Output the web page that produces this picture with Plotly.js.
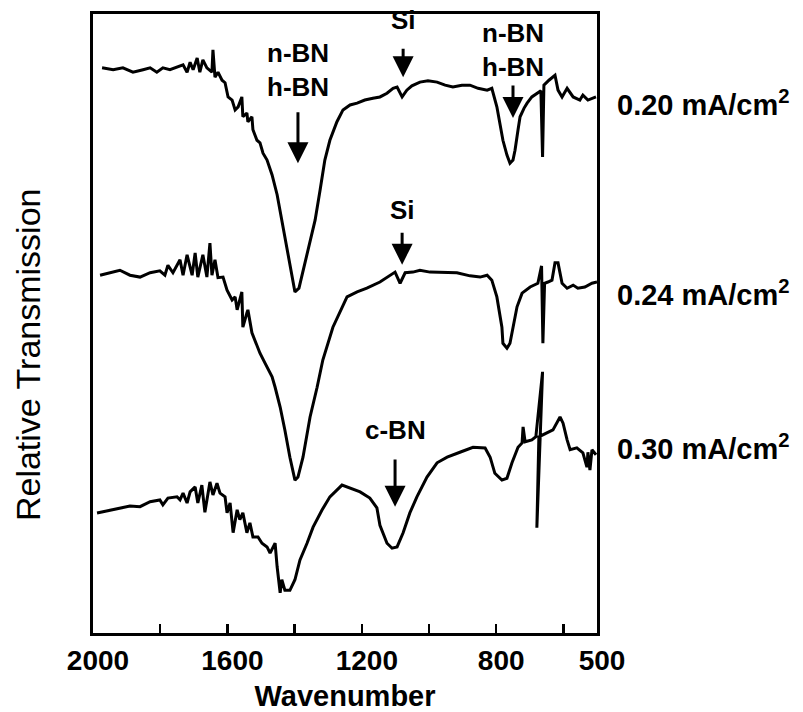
<!DOCTYPE html>
<html><head><meta charset="utf-8">
<script src="https://cdn.plot.ly/plotly-3.0.1.min.js"></script>
<style>html,body{margin:0;padding:0;background:#fff}</style>
</head><body>
<div id="chart" style="width:803px;height:712px"></div>
<script>
// Wavenumber (cm^-1) and relative transmission (arbitrary units)
const wn020 = [1973,1940,1911,1881,1851,1830,1810,1792,1771,1750,1732,1720,1711,1702,1690,1682,1673,1661,1646,1643,1637,1628,1616,1607,1598,1586,1577,1568,1557,1554,1542,1539,1527,1524,1512,1503,1494,1482,1467,1452,1438,1426,1414,1399,1387,1372,1354,1339,1324,1310,1295,1274,1256,1235,1214,1191,1167,1146,1125,1107,1095,1080,1066,1051,1027,1003,976,952,929,902,878,854,827,813,798,789,780,768,759,750,744,735,729,717,708,694,679,667,662,658,643,634,625,616,604,589,571,551,542,527,515,503];
const t020 = [91.3,91.0,91.3,90.6,91.0,91.3,90.6,91.3,91.0,91.4,91.8,90.6,92.2,91.0,92.9,90.6,92.6,91.3,90.6,94.2,89.8,90.6,89.3,88.9,86.6,86.1,84.5,85.0,86.6,83.4,84.0,82.6,83.4,81.3,79.6,79.2,77.5,76.4,74.0,70.8,66.7,62.7,59.0,55.1,55.7,59.0,63.0,66.7,71.6,76.4,79.6,82.6,84.5,85.3,85.6,86.1,86.4,86.6,87.2,88.0,88.2,86.6,87.7,88.4,89.0,89.2,89.0,88.5,88.2,88.5,88.5,88.0,87.7,88.0,85.0,82.1,79.6,77.2,75.9,76.4,78.0,81.3,83.4,84.8,85.6,86.6,87.2,87.6,76.9,88.5,89.3,89.7,90.1,87.7,86.6,88.0,86.6,86.1,86.9,86.1,86.4,86.6];

const wn024 = [1979,1949,1920,1890,1860,1830,1801,1786,1777,1762,1741,1732,1720,1705,1696,1688,1673,1661,1652,1646,1637,1628,1613,1601,1586,1577,1571,1557,1554,1542,1539,1527,1518,1503,1488,1467,1458,1443,1429,1414,1399,1390,1375,1354,1333,1316,1286,1244,1214,1185,1146,1125,1101,1086,1071,1048,1027,997,958,917,878,848,827,813,798,783,780,768,759,750,738,723,699,676,665,661,656,646,634,625,616,604,589,571,557,536,515,500];
const t024 = [57.8,58.2,58.6,57.8,57.5,58.2,58.5,57.8,59.4,58.2,60.3,57.8,61.1,57.8,61.4,57.5,61.1,57.5,63.0,57.8,60.3,57.4,57.5,55.4,53.8,54.3,52.2,55.1,49.4,51.7,52.2,48.5,47.3,45.2,43.6,41.4,39.7,36.5,32.8,28.4,24.7,25.2,28.4,34.9,39.7,44.1,49.4,54.3,55.1,55.7,56.7,57.4,58.3,56.5,58.2,58.3,58.6,58.3,58.2,58.2,57.7,57.5,57.8,57.0,54.3,49.4,46.8,46.0,46.8,49.4,52.7,54.9,55.9,56.5,59.3,46.8,56.5,56.7,57.0,59.8,59.8,56.5,55.7,56.2,55.7,55.9,56.5,56.7];

const wn030 = [1988,1940,1890,1860,1830,1801,1792,1777,1750,1741,1732,1720,1711,1696,1688,1676,1667,1652,1643,1631,1622,1607,1601,1592,1583,1571,1563,1554,1542,1533,1524,1509,1497,1482,1473,1458,1452,1443,1438,1429,1414,1399,1384,1363,1345,1318,1295,1259,1235,1205,1176,1155,1146,1125,1110,1095,1077,1057,1036,1006,976,946,908,869,833,818,804,783,768,753,735,723,720,714,694,682,662,679,673,649,631,610,601,589,580,560,542,530,527,521,515,503];
const t030 = [19.4,19.9,20.5,20.4,21.2,21.5,20.7,21.8,22.0,21.5,22.6,21.0,22.8,23.6,21.0,23.9,19.5,24.4,22.3,24.2,22.6,22.0,19.4,21.0,16.2,19.9,18.3,19.4,16.2,17.8,15.5,15.5,14.5,13.9,12.9,14.5,10.7,6.5,8.6,6.9,6.9,8.6,11.8,14.5,17.1,19.9,22.0,23.9,23.4,22.8,21.8,20.2,17.4,14.5,13.7,13.9,16.2,19.4,22.0,25.2,27.5,28.4,29.2,30.0,29.9,28.4,25.8,24.7,25.0,27.5,30.0,30.7,33.3,30.9,31.2,31.7,42.2,17.0,31.7,32.3,32.8,34.9,33.9,31.2,29.6,29.9,29.1,26.8,29.2,26.3,29.6,28.8];

const seriesNames = ['0.20 mA/cm<sup>2</sup>','0.24 mA/cm<sup>2</sup>','0.30 mA/cm<sup>2</sup>'];
const labelY = [85.6, 54.9, 30.0];

const majorTicks = [2000,1600,1200,800,500];
const majorText = ['2000','1600','1200','800','500'];
const minorTicks = [1800,1400,1000,600];

// peak markers: label, wavenumber, label centre y, arrow tip y, gap below label (px)
const peakLabels = ['n-BN<br>h-BN','Si','n-BN<br>h-BN','Si','c-BN'];
const peakWn    = [1390, 1077, 750, 1080, 1101];
const peakTextY = [91.0, 99.0, 94.2, 68.3, 32.8];
const peakTip   = [75.9, 89.8, 83.2, 59.5, 20.4];
const peakGap   = [9, 12, 2, 6, 13];

const FONT = 'Liberation Sans, Arial, sans-serif';
const traces = [[wn020,t020],[wn024,t024],[wn030,t030]].map((d,i)=>({
  x:d[0], y:d[1], type:'scatter', mode:'lines', name:seriesNames[i],
  line:{color:'#000', width:3}, hoverinfo:'skip'
}));

const ann = [];
seriesNames.forEach((n,i)=>ann.push({
  xref:'paper', x:1, xanchor:'left', xshift:18, yref:'y', y:labelY[i], yanchor:'middle',
  text:n, showarrow:false, font:{family:FONT, size:29, color:'#000', weight:'bold'}
}));
peakLabels.forEach((t,i)=>{
  ann.push({xref:'x', yref:'y', x:peakWn[i], y:peakTip[i], axref:'x', ayref:'y', ax:peakWn[i], ay:peakTextY[i],
    text:t, showarrow:true, arrowhead:2, arrowsize:1.4, arrowwidth:3, arrowcolor:'#000',
    startstandoff:peakGap[i], font:{family:FONT, size:26, color:'#000', weight:'bold'}});
});
ann.push({xref:'paper', yref:'paper', x:0, xshift:-65, y:0.449, text:'Relative Transmission',
  textangle:-90, showarrow:false, xanchor:'center', yanchor:'middle',
  font:{family:FONT, size:34, color:'#000'}});

const layout = {
  width:803, height:712, margin:{l:93, r:206, t:14, b:79, pad:0},
  paper_bgcolor:'#fff', plot_bgcolor:'#fff', showlegend:false,
  xaxis:{range:[2000,500], showline:true, linewidth:3, linecolor:'#000', mirror:true,
    ticks:'inside', ticklen:9, tickwidth:2.5, tickcolor:'#000',
    tickmode:'array', tickvals:majorTicks, ticktext:majorText, ticklabelshift:-5,
    tickfont:{family:FONT, size:28, color:'#000', weight:'bold'},
    minor:{tickmode:'array', tickvals:minorTicks, ticks:'inside', ticklen:9, tickwidth:2.5, tickcolor:'#000', showgrid:false},
    showgrid:false, zeroline:false,
    title:{text:'Wavenumber', font:{family:FONT, size:29, color:'#000', weight:'bold'}, standoff:12}},
  yaxis:{range:[0,100], showline:true, linewidth:3, linecolor:'#000', mirror:true,
    showticklabels:false, ticks:'', showgrid:false, zeroline:false},
  annotations:ann
};
Plotly.newPlot('chart', traces, layout, {displayModeBar:false, staticPlot:true});
</script>
</body></html>
